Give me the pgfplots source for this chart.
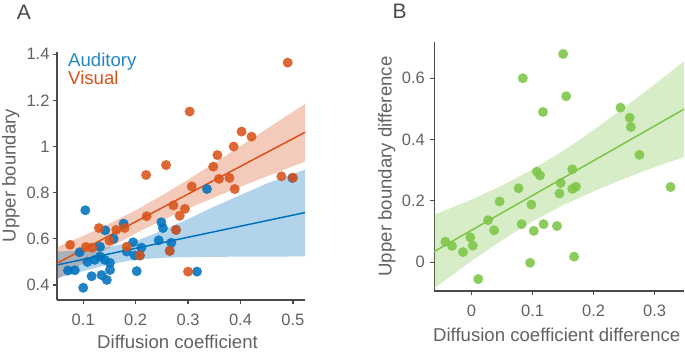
\documentclass[border=0pt]{standalone}
\usepackage{pgfplots}
\pgfplotsset{compat=1.18}
\usepgfplotslibrary{fillbetween}
\usepackage{fontspec}
\setmainfont{Liberation Sans}
\definecolor{cblue}{HTML}{0072BD}
\definecolor{corange}{HTML}{D95319}
\definecolor{cgreen}{HTML}{7CC546}
\definecolor{axgray}{HTML}{4A4A4A}
\definecolor{txtgray}{HTML}{626262}
\pgfplotsset{
  myaxis/.style={
    scale only axis,
    anchor=south west,
    axis x line*=bottom,
    axis y line*=left,
    axis line style={axgray, line width=1.6pt},
    tick style={axgray, line width=1.2pt},
    major tick length=4pt,
    tick align=outside,
    ticklabel style={font=\fontsize{16.5}{18}\selectfont, text=txtgray},
    xticklabel style={yshift=-6pt},
    /pgf/number format/assume math mode=true,
    clip=false,
  },
  dots/.style={only marks, mark=*, mark size=5pt, mark options={draw opacity=0, fill=#1, fill opacity=0.88}},
}
\begin{document}
\begin{tikzpicture}
% ---------------- Panel A ----------------
\begin{axis}[myaxis, at={(57pt,51pt)}, width=248pt, height=248pt,
  xmin=0.05, xmax=0.523, ymin=0.335, ymax=1.41,
  xtick={0.1,0.2,0.3,0.4,0.5}, ytick={0.4,0.6,0.8,1,1.2,1.4}]
% Visual CI band
\addplot[name path=vu, draw=none] coordinates {(0.05,0.564) (0.1,0.613) (0.15,0.666) (0.2,0.724) (0.25,0.788) (0.3,0.857) (0.35,0.928) (0.4,1.002) (0.45,1.077) (0.523,1.185)};
\addplot[name path=vl, draw=none] coordinates {(0.05,0.424) (0.1,0.495) (0.15,0.562) (0.2,0.624) (0.25,0.680) (0.3,0.731) (0.35,0.780) (0.4,0.826) (0.45,0.871) (0.523,0.935)};
\addplot[corange, fill opacity=0.3, draw=none] fill between[of=vu and vl];
% Auditory CI band
\addplot[name path=au, draw=none] coordinates {(0.05,0.545) (0.1,0.55) (0.15,0.565) (0.2,0.59) (0.25,0.635) (0.3,0.686) (0.35,0.74) (0.4,0.79) (0.45,0.84) (0.523,0.90)};
\addplot[name path=al, draw=none] coordinates {(0.05,0.43) (0.1,0.46) (0.15,0.49) (0.2,0.51) (0.25,0.518) (0.3,0.521) (0.35,0.522) (0.4,0.523) (0.45,0.523) (0.523,0.524)};
\addplot[cblue, fill opacity=0.3, draw=none] fill between[of=au and al];
% regression lines
\addplot[corange, line width=1.5pt] coordinates {(0.05,0.494) (0.523,1.062)};
\addplot[cblue, line width=1.5pt] coordinates {(0.05,0.487) (0.523,0.714)};
% Auditory points
\addplot[dots=cblue] coordinates {
(0.104,0.724) (0.177,0.666) (0.142,0.637) (0.158,0.600) (0.195,0.585) (0.211,0.562)
(0.198,0.528) (0.183,0.545) (0.249,0.672) (0.252,0.647) (0.244,0.594) (0.268,0.583)
(0.336,0.816) (0.499,0.864) (0.277,0.639) (0.265,0.548) (0.208,0.528) (0.202,0.460)
(0.317,0.458) (0.100,0.388) (0.071,0.463) (0.084,0.464) (0.093,0.542) (0.108,0.500)
(0.122,0.509) (0.132,0.523) (0.141,0.509) (0.151,0.496) (0.151,0.465) (0.116,0.438)
(0.135,0.443) (0.145,0.422) (0.132,0.566)};
% Visual points
\addplot[dots=corange] coordinates {
(0.490,1.364) (0.303,1.152) (0.402,1.065) (0.421,1.043) (0.387,1.000) (0.356,0.963)
(0.348,0.913) (0.258,0.920) (0.220,0.877) (0.307,0.827) (0.359,0.860) (0.379,0.864)
(0.389,0.816) (0.478,0.871) (0.500,0.865) (0.272,0.745) (0.294,0.730) (0.284,0.700)
(0.221,0.698) (0.277,0.639) (0.265,0.548) (0.208,0.528) (0.300,0.458) (0.130,0.647)
(0.163,0.639) (0.179,0.647) (0.150,0.592) (0.183,0.566) (0.075,0.574) (0.105,0.565)
(0.117,0.562)};
\end{axis}
% ---------------- Panel B ----------------
\begin{axis}[myaxis, at={(434.3pt,60pt)}, width=249.7pt, height=249.3pt,
  xmin=-0.061, xmax=0.348, ymin=-0.094, ymax=0.719,
  xtick={0,0.1,0.2,0.3}, ytick={0,0.2,0.4,0.6},
  yticklabel style={xshift=-2pt}]
\addplot[name path=gu, draw=none] coordinates {(-0.061,0.155) (0,0.204) (0.05,0.250) (0.1,0.303) (0.15,0.363) (0.2,0.431) (0.25,0.504) (0.3,0.580) (0.348,0.655)};
\addplot[name path=gl, draw=none] coordinates {(-0.061,-0.085) (0,0.004) (0.05,0.072) (0.1,0.133) (0.15,0.186) (0.2,0.231) (0.25,0.272) (0.3,0.310) (0.348,0.343)};
\addplot[cgreen, fill opacity=0.3, draw=none] fill between[of=gu and gl];
\addplot[cgreen, line width=1.5pt] coordinates {(-0.061,0.035) (0.348,0.499)};
\addplot[dots=cgreen] coordinates {
(0.150,0.679) (0.084,0.600) (0.155,0.541) (0.117,0.490) (0.244,0.504) (0.259,0.471)
(0.261,0.441) (0.275,0.350) (0.165,0.303) (0.107,0.295) (0.112,0.283) (0.326,0.245)
(0.077,0.241) (0.146,0.258) (0.165,0.239) (0.171,0.246) (0.144,0.224) (0.046,0.198)
(0.098,0.188) (0.027,0.137) (0.082,0.124) (0.118,0.124) (0.140,0.118) (0.102,0.102)
(0.037,0.104) (-0.043,0.067) (-0.032,0.053) (-0.002,0.081) (0.002,0.054) (-0.014,0.033)
(0.096,-0.002) (0.168,0.018) (0.011,-0.055)};
\end{axis}
% ---------------- Texts ----------------
\begin{scope}[every node/.style={inner sep=0pt, font=\fontsize{18.6}{20}\selectfont, text=txtgray}]
\node[anchor=base] at (177.5pt,3pt) {Diffusion coefficient};
\node[rotate=90, anchor=base] at (15.5pt,175.5pt) {Upper boundary};
\node[anchor=base] at (556.7pt,9.3pt) {Diffusion coefficient difference};
\node[rotate=90, anchor=base] at (391.5pt,184.5pt) {Upper boundary difference};
\node[anchor=base west, text=cblue!85!white] at (68pt,284.6pt) {Auditory};
\node[anchor=base west, text=corange] at (68pt,266pt) {Visual};
\node[anchor=base, text=axgray, font=\fontsize{21}{23}\selectfont] at (24pt,331pt) {A};
\node[anchor=base, text=axgray, font=\fontsize{21}{23}\selectfont] at (399.5pt,332pt) {B};
\end{scope}
\pgfresetboundingbox
\path[use as bounding box] (0pt,0pt) rectangle (685pt,351pt);
\end{tikzpicture}
\end{document}
